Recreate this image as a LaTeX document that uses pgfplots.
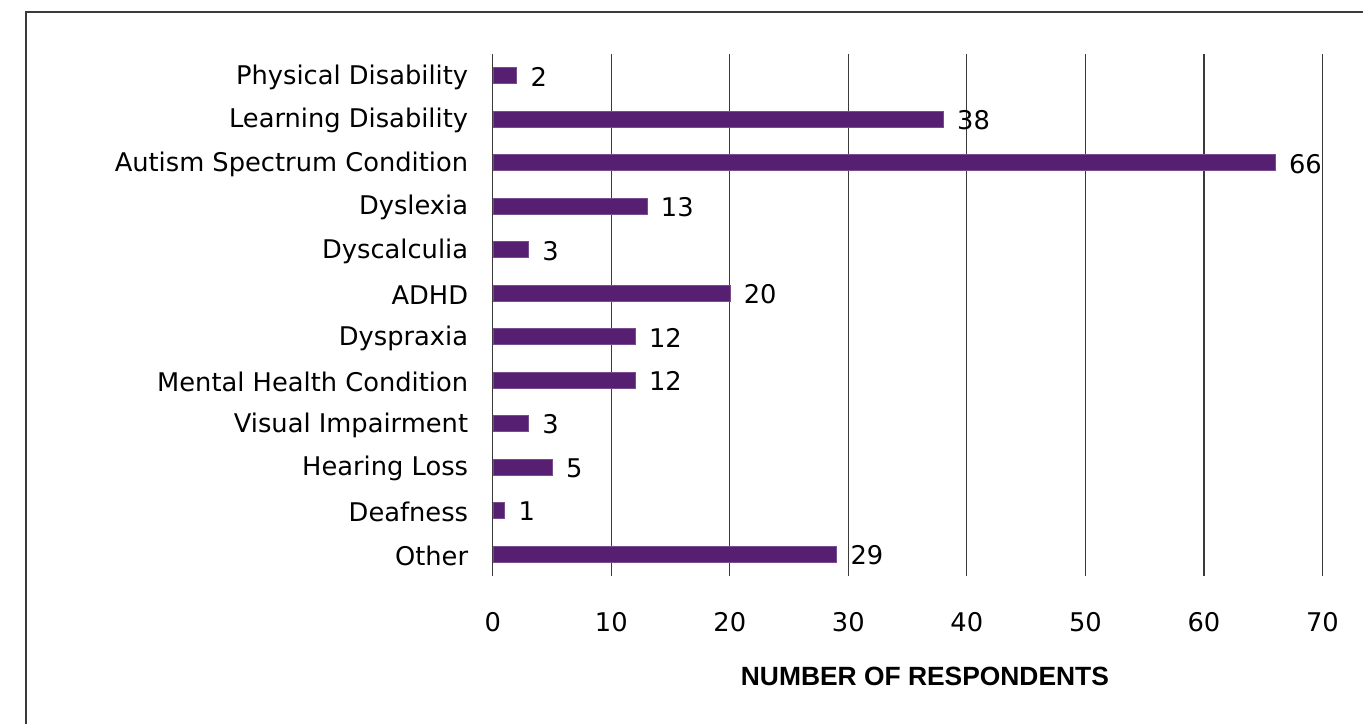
\documentclass[border=0pt]{standalone}
\usepackage{pgfplots}
\pgfplotsset{compat=1.18}
\usepackage{fontspec}
\setmainfont{DejaVu Sans}
\newfontfamily\titlefont{Liberation Sans}
\definecolor{barpurple}{HTML}{561F72}
\definecolor{gridgray}{HTML}{3A3A3A}

\begin{document}
\begin{tikzpicture}
% page extent and outer frame
\path (0,0) rectangle (1023pt,543pt);
\draw[gridgray, line width=0.9pt] (19.5pt,0) -- (19.5pt,534pt) -- (1023pt,534pt);

\begin{axis}[
  at={(369.75pt,111pt)}, anchor=south west,
  scale only axis, width=622.5pt, height=391.5pt,
  xbar, bar width=12pt,
  xmin=0, xmax=70, ymin=-0.5, ymax=11.5,
  xtick={0,10,...,70},
  ytick={0,...,11},
  yticklabels={Other, Deafness, Hearing Loss, Visual Impairment, Mental Health Condition, Dyspraxia, ADHD, Dyscalculia, Dyslexia, Autism Spectrum Condition, Learning Disability, Physical Disability},
  xmajorgrids, major grid style={gridgray, line width=0.95pt},
  axis line style={draw=none},
  axis y line*=left,
  major tick length=0pt,
  tick label style={font=\fontsize{19.3}{22}\selectfont},
  /pgf/number format/assume math mode=true,
  xticklabel style={yshift=-24pt},
  yticklabel style={xshift=-15pt, yshift=-1.2pt},
  nodes near coords,
  nodes near coords style={font=\fontsize{19.3}{22}\selectfont, anchor=west, xshift=7pt, yshift=-0.8pt, text=black},
  clip=false,
]
\draw[gridgray, line width=0.95pt] (axis cs:0,-0.5) -- (axis cs:0,11.5);
\addplot[fill=barpurple, draw=barpurple!80!white, line width=0.4pt] coordinates {
  (29,0) (1,1) (5,2) (3,3) (12,4) (12,5) (20,6) (3,7) (13,8) (66,9) (38,10) (2,11)
};
\end{axis}
\node[font=\titlefont\bfseries\fontsize{19.8}{23}\selectfont] at (694pt,35.25pt) {NUMBER OF RESPONDENTS};
\end{tikzpicture}
\end{document}
